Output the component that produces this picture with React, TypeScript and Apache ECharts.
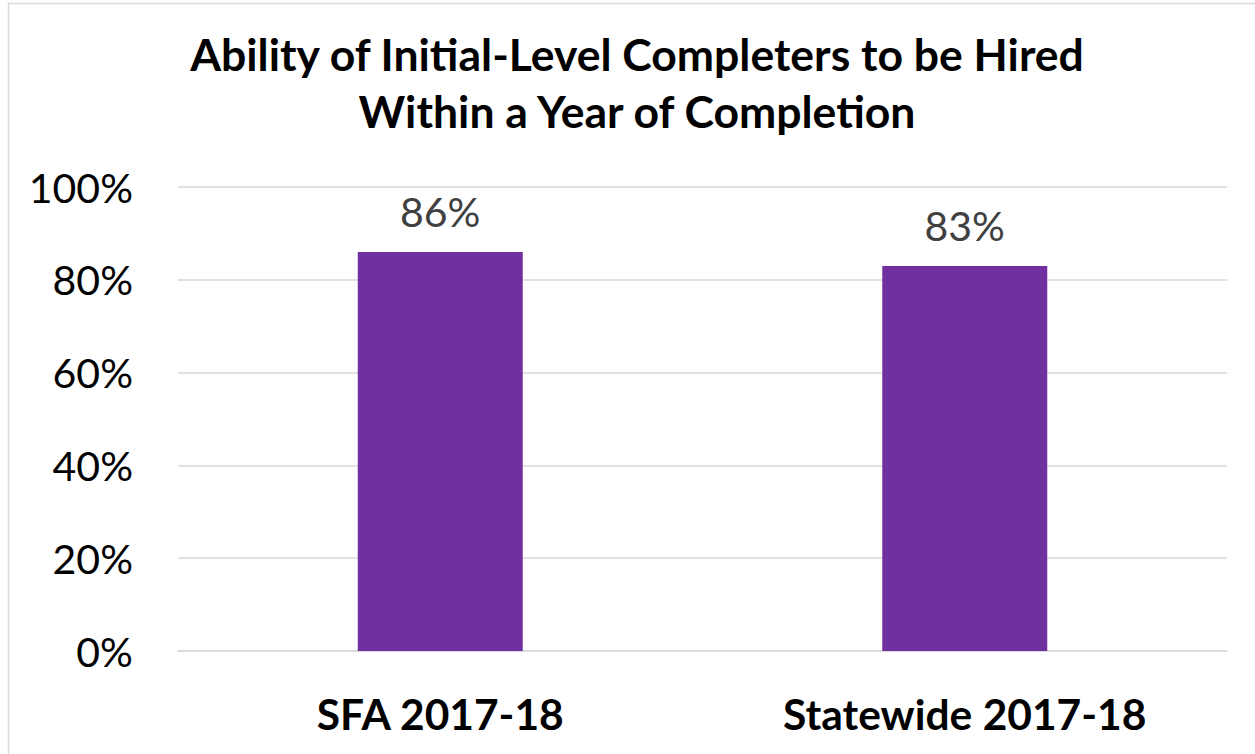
import React, { useEffect, useRef } from "react";
import * as echarts from "echarts";

const categories = ["SFA 2017-18", "Statewide 2017-18"];
const values = [86, 83];
const yTicks = [0, 20, 40, 60, 80, 100];
const titleLines = ["Ability of Initial-Level Completers to be Hired", "Within a Year of Completion"];

export default function App() {
  const ref = useRef<HTMLDivElement>(null);
  useEffect(() => {
    if (!ref.current) return;
    const chart = echarts.init(ref.current, null, { renderer: "svg" });
    chart.setOption({
      animation: false,
      backgroundColor: "#ffffff",
      title: {
        text: titleLines.join("\n"),
        left: 632,
        textAlign: "center",
        top: 20,
        textStyle: {
          fontFamily: "Lato",
          fontWeight: "bold",
          fontSize: 44.5,
          lineHeight: 57,
          color: "#000000",
        },
      },
      graphic: [
        {
          type: "rect",
          shape: { x: 8.5, y: 3.5, width: 1260, height: 760 },
          style: { fill: "none", stroke: "#d9d9d9", lineWidth: 1.5 },
          silent: true,
        },
      ],
      grid: { left: 178, right: 28, top: 187, bottom: 103, containLabel: false },
      xAxis: {
        type: "category",
        data: categories,
        axisLine: { show: true, lineStyle: { color: "#d9d9d9", width: 1.5 } },
        axisTick: { show: false },
        axisLabel: {
          margin: 41,
          fontFamily: "Lato",
          fontWeight: "bold",
          fontSize: 42.5,
          color: "#000000",
        },
      },
      yAxis: {
        type: "value",
        min: yTicks[0],
        max: yTicks[yTicks.length - 1],
        interval: 20,
        axisLine: { show: false },
        axisTick: { show: false },
        splitLine: { lineStyle: { color: "#d9d9d9", width: 1.5 } },
        axisLabel: {
          margin: 45,
          fontFamily: "Lato",
          fontSize: 41,
          color: "#000000",
          formatter: (v: number) => `${v}%`,
        },
      },
      series: [
        {
          type: "bar",
          data: values,
          barWidth: 165,
          itemStyle: { color: "#7030A0" },
          label: {
            show: true,
            position: "top",
            distance: 20,
            fontFamily: "Lato",
            fontSize: 41,
            color: "#404040",
            formatter: (p: any) => `${p.value}%`,
          },
        },
      ],
    });
    return () => chart.dispose();
  }, []);
  return (
    <div
      ref={ref}
      style={{ position: "fixed", left: 0, top: 0, width: 1255, height: 754 }}
    />
  );
}
